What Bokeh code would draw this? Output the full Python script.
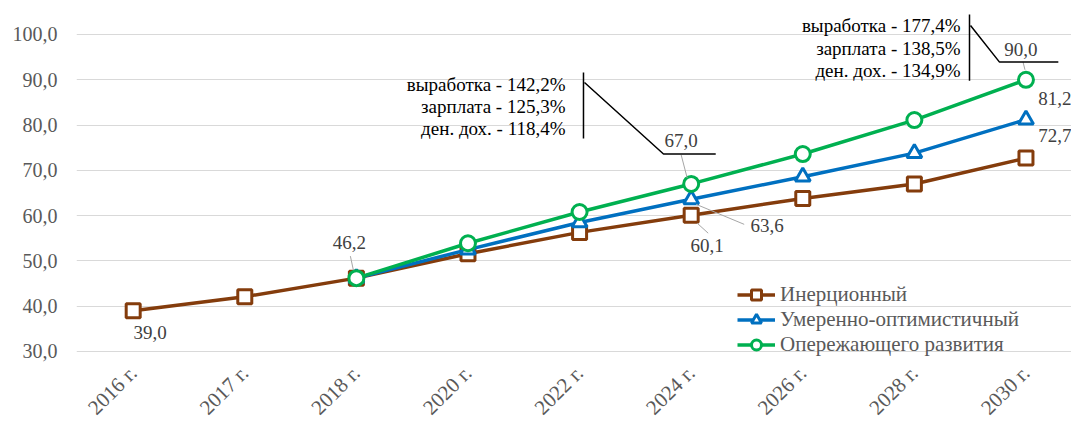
import math
from bokeh.plotting import figure
from bokeh.models import (ColumnDataSource, FixedTicker, CustomJSTickFormatter,
                          Legend, LegendItem, Range1d)
from bokeh.core.properties import value
from bokeh.embed import file_html
from bokeh.resources import INLINE

# ---------------- data ----------------
years = ["2016 г.", "2017 г.", "2018 г.", "2020 г.", "2022 г.", "2024 г.", "2026 г.", "2028 г.", "2030 г."]
inertial = [39.0, 42.1, 46.2, 51.6, 56.3, 60.1, 63.8, 67.0, 72.7]          # Инерционный (all years)
moderate = [46.2, 52.5, 58.5, 63.6, 68.6, 73.8, 81.2]                      # from 2018 г.
advanced = [46.2, 53.9, 60.8, 67.0, 73.6, 81.1, 90.0]                      # from 2018 г.
series_names = ["Инерционный", "Умеренно-оптимистичный", "Опережающего развития"]
y_ticks = [30, 40, 50, 60, 70, 80, 90, 100]

callout1_lines = ["выработка - 142,2%", "зарплата - 125,3%", "ден. дох. - 118,4%"]
callout2_lines = ["выработка - 177,4%", "зарплата - 138,5%", "ден. дох. - 134,9%"]

# which points get value labels: (series, index)
labelled = [("i", 0), ("i", 2), ("a", 5), ("i", 5), ("m", 5), ("a", 8), ("m", 8), ("i", 8)]

# ---------------- styling / layout ----------------
FONT = "'Liberation Serif', 'DejaVu Serif', serif"
C_IN, C_MO, C_AD = "#843C0C", "#0070C0", "#00B050"
X0, X1 = -0.508, 8.408
Y0, Y1 = 28.01, 105.74
FW, FH = 995, 352
ppx = FW / (X1 - X0)
ppy = FH / (Y1 - Y0)

p = figure(frame_width=FW, frame_height=FH, x_range=Range1d(X0, X1), y_range=Range1d(Y0, Y1),
           output_backend="svg", toolbar_location=None, min_border_left=76,
           min_border_right=0, min_border_top=8, min_border_bottom=0)
p.outline_line_color = None
p.background_fill_color = "white"
p.border_fill_color = "white"

p.xgrid.grid_line_color = None
p.ygrid.grid_line_color = "#D9D9D9"
p.ygrid.grid_line_width = 1

p.yaxis.ticker = FixedTicker(ticks=y_ticks)
p.yaxis.formatter = CustomJSTickFormatter(code="return tick.toFixed(1).replace('.', ',');")
p.xaxis.ticker = FixedTicker(ticks=list(range(len(years))))
p.xaxis.formatter = CustomJSTickFormatter(args=dict(labels=years),
                                          code="return labels[Math.round(tick)];")
for ax in (p.xaxis[0], p.yaxis[0]):
    ax.axis_line_color = None
    ax.major_tick_line_color = None
    ax.minor_tick_line_color = None
    ax.major_tick_out = 0
    ax.major_tick_in = 0
    ax.major_label_text_font = FONT
    ax.major_label_text_color = "#595959"
p.yaxis.major_label_text_font_size = "20px"
p.yaxis.major_label_standoff = 19
p.xaxis.major_label_text_font_size = "21px"
p.xaxis.major_label_orientation = math.pi / 4
p.xaxis.major_label_standoff = 9

xi = list(range(len(years)))
xm = list(range(2, len(years)))

r_il = p.line(xi, inertial, line_color=C_IN, line_width=3.5)
r_is = p.scatter(xi, inertial, marker="square", size=14, line_color=C_IN, line_width=3, fill_color="white")
r_ml = p.line(xm, moderate, line_color=C_MO, line_width=3.5)
r_ms = p.scatter(xm, moderate, marker="triangle", size=15, line_color=C_MO, line_width=3, fill_color="white")
r_al = p.line(xm, advanced, line_color=C_AD, line_width=3.5)
r_as = p.scatter(xm, advanced, marker="circle", size=15, line_color=C_AD, line_width=3, fill_color="white")

# value labels
def val(s, i):
    if s == "i":
        return inertial[i]
    if s == "m":
        return moderate[i - 2]
    return advanced[i - 2]

label_offsets = [(17, 22), (-7, -36), (-10, -43), (16, 30), (76, 26), (-5, -30), (29, -21), (29, -23)]
leader_offsets = [None, ((-6, -22), (-3, -8)), ((-10, -29), (-4, -6)), ((6, 8), (17, 18)),
                  ((5, 5), (53, 25)), ((-3, -18), (-1, -10)), None, None]

lx, ly, lt, ox, oy = [], [], [], [], []
sx0, sy0, sx1, sy1 = [], [], [], []
for (s, i), (dx, dy), ld in zip(labelled, label_offsets, leader_offsets):
    v = val(s, i)
    lx.append(i); ly.append(v); lt.append(f"{v:.1f}".replace(".", ","))
    ox.append(dx); oy.append(dy)
    if ld:
        (a, b), (c, d) = ld
        sx0.append(i + a / ppx); sy0.append(v - b / ppy)
        sx1.append(i + c / ppx); sy1.append(v - d / ppy)

p.segment(sx0, sy0, sx1, sy1, line_color="#A6A6A6", line_width=1)
p.text(x="x", y="y", text="t", x_offset="ox", y_offset="oy",
       source=ColumnDataSource(dict(x=lx, y=ly, t=lt, ox=ox, oy=oy)),
       text_font=value(FONT), text_font_size="19px", text_color="#404040",
       text_align="center", text_baseline="middle")

# callouts
def callout(lines, tx, ty, vx, vy, px, py):
    p.text(x=[tx] * len(lines), y=ty, text=lines, text_font=value(FONT), text_font_size="19px",
           text_color="black", text_align="right", text_baseline="middle")
    p.line(vx, vy, line_color="black", line_width=1.5)
    p.line(px, py, line_color="black", line_width=1.5)

callout(callout1_lines, 3.874, [88.95, 84.1, 79.26], [4.035, 4.035], [91.6, 77.03],
        [4.044, 4.752, 5.22], [89.4, 73.6, 73.6])
callout(callout2_lines, 7.414, [101.98, 96.9, 92.04], [7.494, 7.494], [104.4, 89.8],
        [7.503, 7.763, 8.29], [101.98, 93.9, 93.9])

legend = Legend(items=[LegendItem(label=series_names[0], renderers=[r_il, r_is]),
                       LegendItem(label=series_names[1], renderers=[r_ml, r_ms]),
                       LegendItem(label=series_names[2], renderers=[r_al, r_as])],
                location=(661, 3), padding=0, margin=0, spacing=0,
                glyph_width=38, glyph_height=25, label_height=25, label_standoff=5,
                label_text_font=FONT, label_text_font_size="21px", label_text_color="#595959",
                background_fill_alpha=0, border_line_alpha=0)
p.add_layout(legend, "center")

open("out.html", "w").write(file_html(p, INLINE))
